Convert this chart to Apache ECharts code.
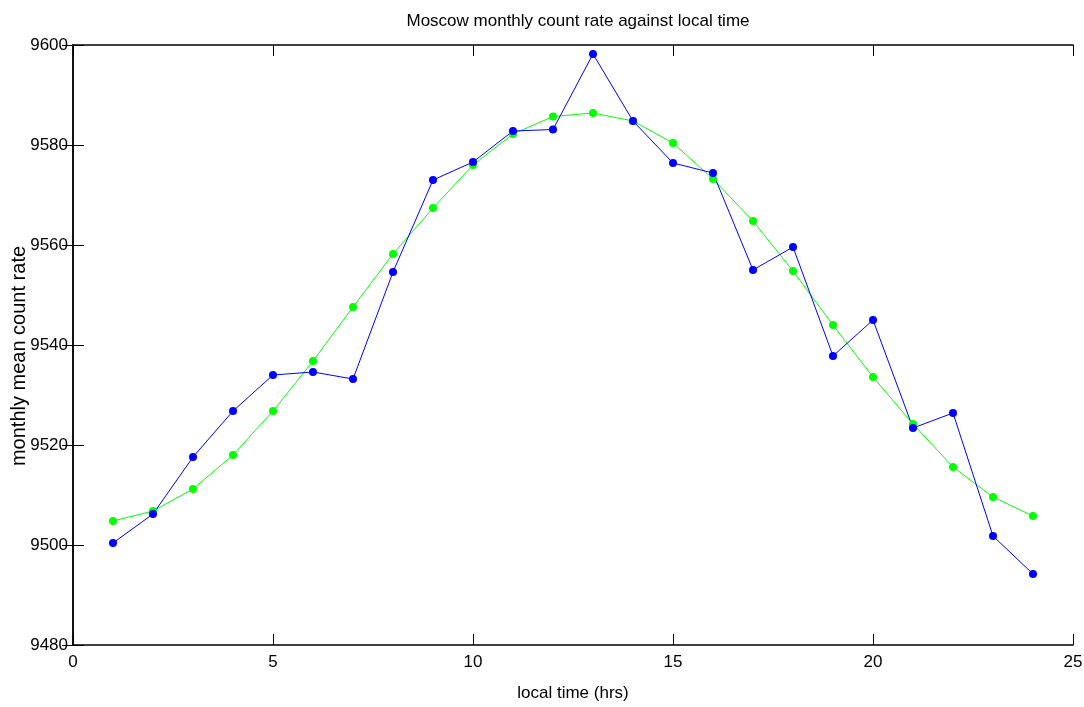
<!DOCTYPE html>
<html>
<head>
<meta charset="utf-8">
<style>
  html, body { margin: 0; padding: 0; background: #fff; }
  #chart { width: 1084px; height: 707px; }
</style>
<script src="https://cdn.jsdelivr.net/npm/echarts@6/dist/echarts.min.js"></script>
</head>
<body>
<div id="chart"></div>
<script>
// local time (hrs)
const hours = [1, 2, 3, 4, 5, 6, 7, 8, 9, 10, 11, 12, 13, 14, 15, 16, 17, 18, 19, 20, 21, 22, 23, 24];

// monthly mean count rate, measured (blue)
const measured = [9500.4, 9506.2, 9517.6, 9526.8, 9534.0, 9534.6, 9533.2, 9554.6, 9573.0, 9576.6, 9582.8, 9583.1,
    9598.2, 9584.8, 9576.4, 9574.4, 9555.0, 9559.6, 9537.8, 9545.0, 9523.4, 9526.4, 9501.8, 9494.2];

// smoothed fit (green)
const fitted = [9504.8, 9506.8, 9511.2, 9518.0, 9526.8, 9536.8, 9547.6, 9558.2, 9567.4, 9576.0, 9582.2, 9585.7,
    9586.4, 9584.8, 9580.4, 9573.2, 9564.8, 9554.8, 9544.0, 9533.6, 9524.2, 9515.6, 9509.6, 9505.8];

const titleText = 'Moscow monthly count rate against local time';
const xName = 'local time (hrs)';
const yName = 'monthly mean count rate';

const font = '"Liberation Sans", Arial, sans-serif';

const chart = echarts.init(document.getElementById('chart'));

// 坐标轴公共样式
const axisLine = { show: true, lineStyle: { color: '#000', width: 1.5 } };
const axisTick = { show: true, inside: true, length: 11, lineStyle: { color: '#000', width: 1 } };

function pairs(ys) {
    return hours.map((h, i) => [h, ys[i]]);
}

const option = {
    animation: false,
    backgroundColor: '#fff',
    title: {
        text: titleText,
        left: 573,
        top: 8,
        textAlign: 'center',
        textStyle: { fontFamily: font, fontSize: 17, fontWeight: 'normal', color: '#000' }
    },
    grid: { left: 73, right: 11, top: 45, bottom: 62, outerBoundsMode: 'none', containLabel: false },
    xAxis: [{
        type: 'value',
        min: 0, max: 25, interval: 5,
        position: 'bottom',
        name: xName,
        nameLocation: 'middle',
        nameGap: 40,
        nameMoveOverlap: false,
        nameTextStyle: { fontFamily: font, fontSize: 17, color: '#000' },
        axisLine: axisLine,
        axisTick: axisTick,
        axisLabel: { fontFamily: font, fontSize: 17, color: '#000', margin: 9 },
        splitLine: { show: false }
    }, {
        type: 'value',
        min: 0, max: 25, interval: 5,
        position: 'top',
        axisLine: axisLine,
        axisTick: axisTick,
        axisLabel: { show: false },
        splitLine: { show: false }
    }],
    yAxis: [{
        type: 'value',
        min: 9480, max: 9600, interval: 20,
        position: 'left',
        name: yName,
        nameLocation: 'middle',
        nameGap: 44,
        nameRotate: 90,
        nameMoveOverlap: false,
        nameTextStyle: { fontFamily: font, fontSize: 20, color: '#000', padding: [0, 22, 0, 0] },
        axisLine: axisLine,
        axisTick: axisTick,
        axisLabel: { fontFamily: font, fontSize: 17, color: '#000', margin: 5, formatter: v => String(v) },
        splitLine: { show: false }
    }, {
        type: 'value',
        min: 9480, max: 9600, interval: 20,
        position: 'right',
        axisLine: axisLine,
        axisTick: axisTick,
        axisLabel: { show: false },
        splitLine: { show: false }
    }],
    series: [{
        name: 'fit',
        type: 'line',
        data: pairs(fitted),
        symbol: 'circle',
        symbolSize: 8,
        itemStyle: { color: '#00ff00' },
        lineStyle: { color: '#00ff00', width: 1 }
    }, {
        name: 'measured',
        type: 'line',
        data: pairs(measured),
        symbol: 'circle',
        symbolSize: 8,
        itemStyle: { color: '#0000ff' },
        lineStyle: { color: '#0000ff', width: 1 }
    }]
};

chart.setOption(option);
</script>
</body>
</html>
